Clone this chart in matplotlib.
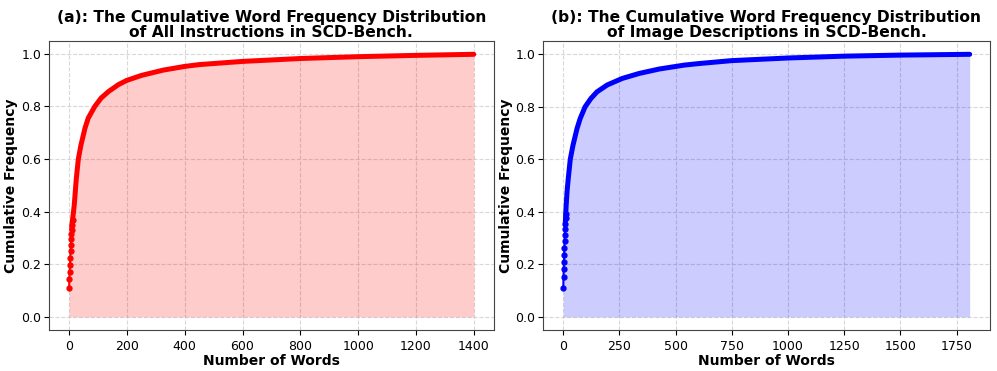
import matplotlib
matplotlib.use("Agg")
import matplotlib.pyplot as plt
import numpy as np

# (a) All instructions
words_a = [0, 1, 2, 3, 4, 5, 6, 7, 8, 9, 10, 12, 15, 18, 25, 32, 41, 55, 66, 89,
           111, 137, 171, 200, 251, 326, 400, 451, 600, 800, 1000, 1200, 1400]
cum_a = [0.110, 0.143, 0.170, 0.196, 0.223, 0.250, 0.274, 0.295, 0.314, 0.332, 0.350,
         0.370, 0.397, 0.427, 0.526, 0.600, 0.653, 0.717, 0.755, 0.800,
         0.832, 0.857, 0.883, 0.899, 0.918, 0.938, 0.952, 0.959, 0.971, 0.982,
         0.989, 0.994, 0.998]

# (b) Image descriptions
words_b = [0, 1, 2, 3, 4, 5, 6, 7, 8, 9, 10, 11, 13, 17, 22, 31, 43, 61, 75, 97, 123,
           150, 195, 262, 337, 427, 539, 606, 750, 1000, 1250, 1500, 1808]
cum_b = [0.109, 0.153, 0.183, 0.210, 0.237, 0.264, 0.288, 0.312, 0.333, 0.355, 0.375,
         0.393, 0.427, 0.480, 0.526, 0.600, 0.653, 0.717, 0.755, 0.800, 0.832,
         0.857, 0.883, 0.908, 0.927, 0.944, 0.959, 0.965, 0.976, 0.986, 0.993,
         0.997, 1.000]

titles = ["(a): The Cumulative Word Frequency Distribution\nof All Instructions in SCD-Bench.",
          "(b): The Cumulative Word Frequency Distribution\nof Image Descriptions in SCD-Bench."]
colors = ["red", "blue"]
xlabel = "Number of Words"
ylabel = "Cumulative Frequency"

fig = plt.figure(figsize=(9.97, 3.71), dpi=100)
ax1 = fig.add_axes([0.049, 0.1105, 0.4465, 0.7785])
ax2 = fig.add_axes([0.5446, 0.1105, 0.4484, 0.7785])

for ax, xs, ys, c, t in [(ax1, words_a, cum_a, colors[0], titles[0]),
                         (ax2, words_b, cum_b, colors[1], titles[1])]:
    xs = np.array(xs); ys = np.array(ys)
    ax.fill_between(xs, ys, 0, color=c, alpha=0.2, linewidth=0)
    sparse = xs <= 12
    ax.plot(xs, ys, color=c, marker="o", markersize=3.5, linewidth=1.5,
            markevery=list(np.where(sparse)[0]))
    dense = xs >= 9
    ax.plot(xs[dense], ys[dense], color=c, linewidth=3.6,
            solid_capstyle="round", solid_joinstyle="round")
    ax.set_title(t, fontsize=11.2, fontweight="bold", pad=3, linespacing=1.0)
    ax.set_xlabel(xlabel, fontsize=10, fontweight="bold", labelpad=1)
    ax.set_ylabel(ylabel, fontsize=10, fontweight="bold", labelpad=2)
    ax.grid(True, linestyle="--", color="#c8c8c8", alpha=0.7, linewidth=0.8)
    ax.set_axisbelow(True)
    ax.tick_params(labelsize=9)
    ax.tick_params(axis="y", pad=2)
    ax.set_yticks([0.0, 0.2, 0.4, 0.6, 0.8, 1.0])
    for s in ax.spines.values():
        s.set_color("#444444")

ax1.set_xticks([0, 200, 400, 600, 800, 1000, 1200, 1400])
ax2.set_xticks([0, 250, 500, 750, 1000, 1250, 1500, 1750])

fig.savefig("out.png", dpi=100)
